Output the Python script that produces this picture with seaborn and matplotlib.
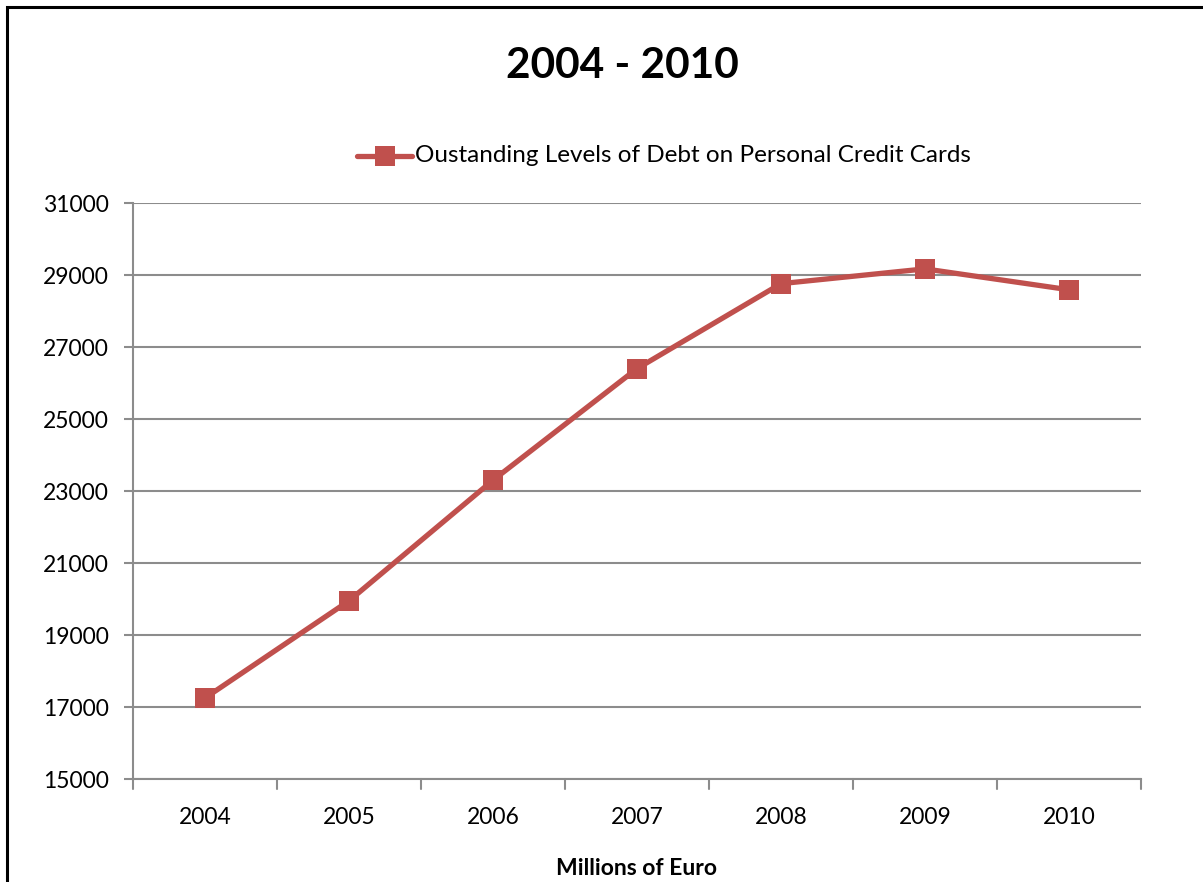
import matplotlib
matplotlib.use("Agg")
import matplotlib.pyplot as plt
import seaborn as sns
import pandas as pd
from matplotlib.patches import Rectangle

years = ["2004", "2005", "2006", "2007", "2008", "2009", "2010"]
debt = [17250, 19950, 23300, 26400, 28760, 29170, 28590]
y_ticks = [15000, 17000, 19000, 21000, 23000, 25000, 27000, 29000, 31000]
series_name = "Oustanding Levels of Debt on Personal Credit Cards"

sns.set_theme(style="white")
plt.rcParams["font.family"] = ["Lato", "DejaVu Sans"]
plt.rcParams["text.color"] = "black"
plt.rcParams["xtick.color"] = "black"
plt.rcParams["ytick.color"] = "black"
plt.rcParams["axes.labelcolor"] = "black"

RED = "#C0504D"
GRID = "#8C8C8C"
FS = 17

df = pd.DataFrame({"pos": range(len(years)), "debt": debt, "series": series_name})

fig = plt.figure(figsize=(12.03, 8.82), dpi=100)
ax = fig.add_axes([133 / 1203, 1 - 779 / 882, (1141 - 133) / 1203, (779 - 203) / 882])

sns.lineplot(data=df, x="pos", y="debt", hue="series", palette=[RED], ax=ax,
             linewidth=3.8, marker="s", markersize=14, markeredgewidth=0,
             legend=False)

ax.set_xlim(-0.5, len(years) - 0.5)
ax.set_ylim(y_ticks[0], y_ticks[-1])
ax.set_yticks(y_ticks)
ax.set_yticklabels([str(v) for v in y_ticks], fontsize=FS - 0.5)
ax.set_xticks(range(len(years)))
ax.set_xticklabels(years, fontsize=FS - 0.5)
ax.tick_params(axis="x", length=0, pad=20)
ax.tick_params(axis="y", left=True, length=6.5, width=1.5, color=GRID,
               labelcolor="black", pad=11)

# category boundary ticks on the x axis
for b in [i - 0.5 for i in range(len(years) + 1)]:
    ax.plot([b, b], [0, -0.018], transform=ax.get_xaxis_transform(),
            color=GRID, lw=1.5, clip_on=False)

ax.yaxis.grid(True, color=GRID, linewidth=1.5)
ax.set_axisbelow(True)
for side in ["top", "right"]:
    ax.spines[side].set_visible(False)
for side in ["left", "bottom"]:
    ax.spines[side].set_color(GRID)
    ax.spines[side].set_linewidth(1.5)

ax.set_xlabel("Millions of Euro", fontsize=FS - 0.5, fontweight="bold", labelpad=22)
ax.set_ylabel("")

# legend entry above the plot
lx0, lx1, ly = 357 / 1203, 412 / 1203, 1 - 156 / 882
fig.add_artist(plt.Line2D([lx0, lx1], [ly, ly], transform=fig.transFigure,
                          color=RED, lw=3.8, solid_capstyle="round"))
fig.add_artist(plt.Line2D([(lx0 + lx1) / 2], [ly], transform=fig.transFigure,
                          color=RED, marker="s", markersize=14, markeredgewidth=0))
fig.text(415 / 1203, ly, series_name, fontsize=FS + 0.5, va="center", ha="left")

fig.text(622 / 1203, 1 - 66 / 882, "2004 - 2010", fontsize=30.5, fontweight="bold",
         ha="center", va="center")

# chart frame
fig.add_artist(Rectangle((7 / 1203, -0.05), 1.2, 1 - 7 / 882 + 0.05,
                         transform=fig.transFigure, fill=False,
                         edgecolor="black", linewidth=2.2))

fig.savefig("out.png", dpi=100)
